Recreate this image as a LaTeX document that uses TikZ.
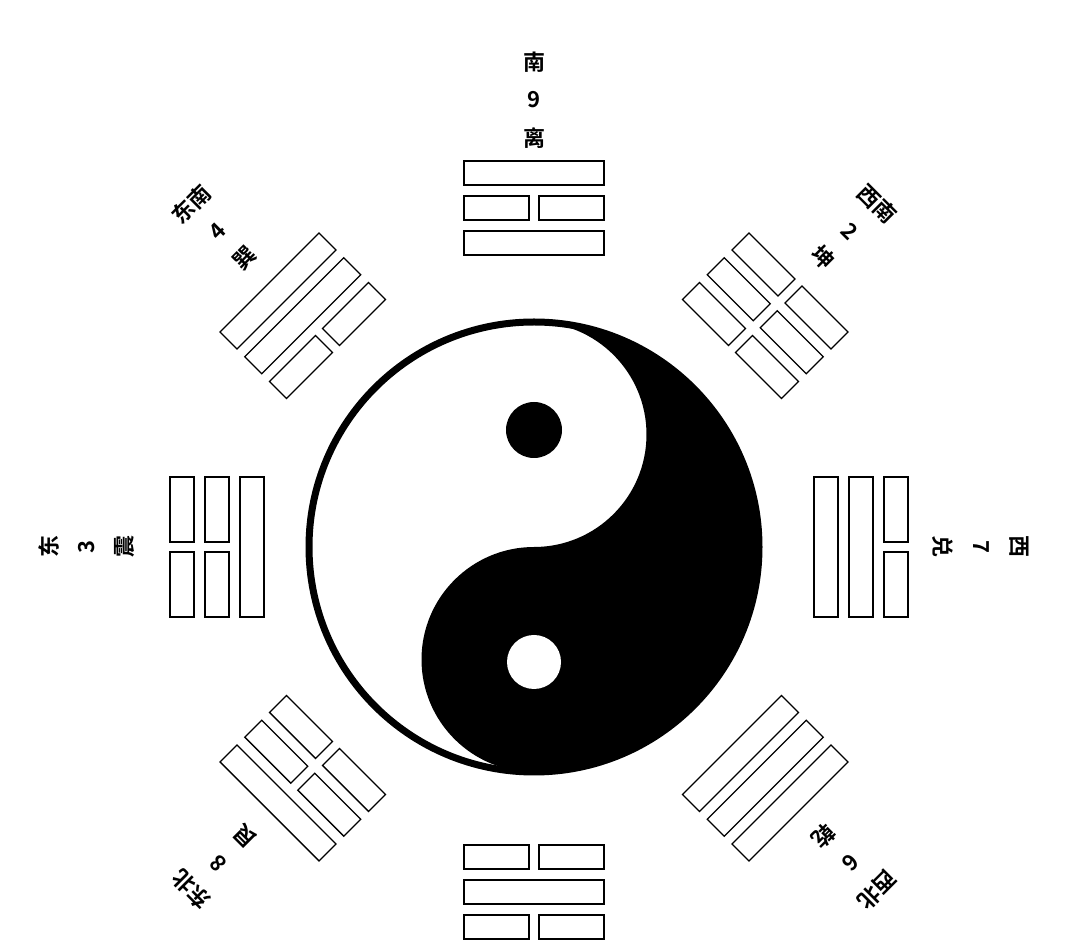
\documentclass[tikz,border=0pt]{standalone}
\usepackage{fontspec}
\newfontfamily\cjk{Noto Sans CJK SC Bold}
\usetikzlibrary{positioning, calc}

\begin{document}
\begin{tikzpicture}[x=1pt, y=1pt]
        \tikzstyle{bar} = [draw=black, line width=1.3pt, fill=white]
        \tikzstyle{label} = [font=\cjk\fontsize{22}{22}\selectfont, inner sep=0pt]
        \useasboundingbox (0,0) rectangle (1080,951);
        \coordinate (centre) at (534,404);

        % one line of a trigram: #1 = distance, #2 = 1 solid / 0 broken
        \newcommand{\yaoline}[2]{%
            \ifnum#2=1
                \draw[bar] (-70,#1-12) rectangle (70,#1+12);
            \else
                \draw[bar] (-70,#1-12) rectangle (-5,#1+12);
                \draw[bar] (5,#1-12) rectangle (70,#1+12);
            \fi}
        % trigram: #1 = angle, #2 #3 #4 = lines from inner to outer, #5 #6 #7 = labels, #9 = inner radius
        \newcommand{\gua}[9]{%
            \begin{scope}[shift={(centre)}, rotate=#1-90]
                \yaoline{#9}{#2}
                \yaoline{#9+35}{#3}
                \yaoline{#9+70}{#4}
                \node[label, rotate=#1-90] (#8dir) at (0,485) {#5};
                \node[label, rotate=#1-90] (#8num) at (0,447) {#6};
                \node[label, rotate=#1-90] (#8name) at (0,409) {#7};
            \end{scope}}

        \gua{90}{1}{0}{1}{南}{9}{离}{li}{304}
        \gua{45}{0}{0}{0}{西南}{2}{坤}{kun}{292}
        \gua{0}{1}{1}{0}{西}{7}{兑}{dui}{292}
        \gua{-45}{1}{1}{1}{西北}{6}{乾}{qian}{292}
        \gua{-90}{0}{1}{0}{}{}{}{kan}{310}
        \gua{-135}{0}{0}{1}{东北}{8}{艮}{gen}{292}
        \gua{180}{1}{0}{0}{东}{3}{震}{zhen}{282}
        \gua{135}{0}{1}{1}{东南}{4}{巽}{xun}{292}

        %taiji
        \fill[black] ($(centre)+(0,225)$) arc[start angle=90, end angle=-90, radius=225]
            arc[start angle=-90, end angle=-270, radius=112.5]
            arc[start angle=-90, end angle=90, radius=112.5] -- cycle;
        \draw[line width=7pt] (centre) circle[radius=225];
        \fill[black] ($(centre)+(0,117)$) circle[radius=28];
        \fill[white] ($(centre)+(0,-115)$) circle[radius=27];
    \end{tikzpicture}
\end{document}
